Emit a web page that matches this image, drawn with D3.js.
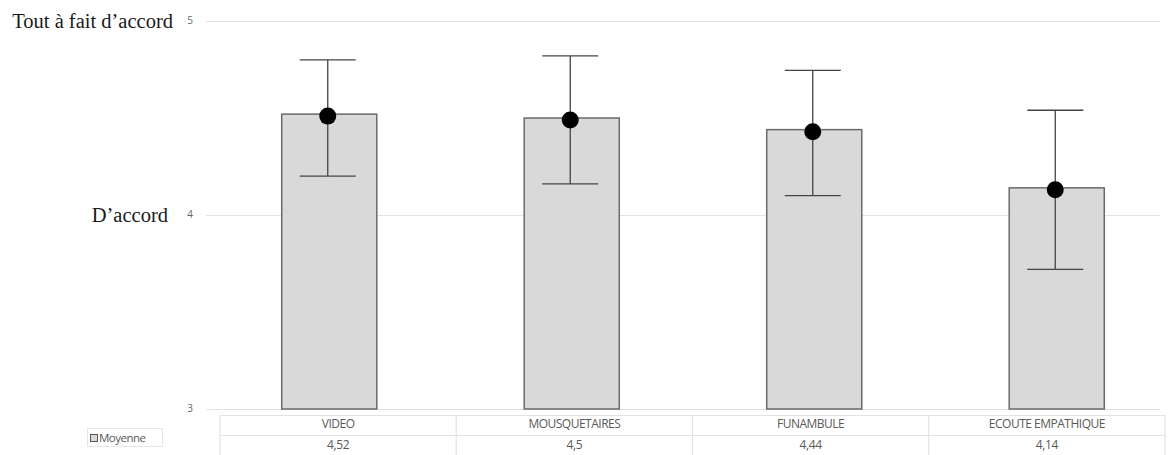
<!DOCTYPE html>
<html><head><meta charset="utf-8">
<script src="https://cdn.jsdelivr.net/npm/d3@7"></script>
<style>body{margin:0;background:#fff}svg{display:block}</style>
</head><body>
<script>
const categories = ["VIDEO", "MOUSQUETAIRES", "FUNAMBULE", "ECOUTE EMPATHIQUE"];
const means = [4.52, 4.5, 4.44, 4.14];
const meanLabels = ["4,52", "4,5", "4,44", "4,14"];
const errUpper = [4.80, 4.82, 4.745, 4.54];
const errLower = [4.20, 4.16, 4.10, 3.72];
const yTicks = [3, 4, 5];
const yLevelLabels = [{v: 5, t: "Tout à fait d\u2019accord"}, {v: 4, t: "D\u2019accord"}];
const seriesName = "Moyenne";

const W = 1170, H = 455;
const svg = d3.select("body").append("svg").attr("width", W).attr("height", H);

const y = d3.scaleLinear().domain([3, 5]).range([409, 21]);
const x = d3.scaleBand().domain(categories).range([208, 1178]).paddingInner(0.608).paddingOuter(0.304);
const xt = d3.scaleBand().domain(categories).range([220, 1165]);

// gridlines
svg.append("g").selectAll("line").data(yTicks).join("line")
  .attr("x1", 206).attr("x2", 1160)
  .attr("y1", d => Math.round(y(d)) + 0.5).attr("y2", d => Math.round(y(d)) + 0.5)
  .attr("stroke", "#e3e3e3").attr("stroke-width", 1.2);

// y axis tick labels
const yAxis = d3.axisLeft(y).tickValues(yTicks).tickSize(0).tickPadding(0).tickFormat(d3.format("d"));
const ga = svg.append("g").attr("transform", "translate(193,0)").call(yAxis);
ga.select(".domain").remove();
ga.selectAll(".tick text").attr("font-family", "Open Sans, Liberation Sans, sans-serif").attr("font-size", 10)
  .attr("fill", "#666").attr("dy", "0").attr("y", 2.5);

// level labels (serif)
svg.append("g").selectAll("text").data(yLevelLabels).join("text")
  .attr("x", (d, i) => i === 0 ? 173 : 168).attr("y", d => y(d.v) + 7)
  .attr("text-anchor", "end")
  .attr("font-family", "Liberation Serif, Times New Roman, serif").attr("font-size", 20.5).attr("fill", "#1a1a1a")
  .text(d => d.t);

// bars
svg.append("g").selectAll("rect").data(categories).join("rect")
  .attr("x", d => x(d)).attr("width", x.bandwidth())
  .attr("y", (d, i) => y(means[i])).attr("height", (d, i) => y(3) - y(means[i]))
  .attr("fill", "#d9d9d9").attr("stroke", "#6a6a6a").attr("stroke-width", 1.5);

// error bars
const eg = svg.append("g").attr("stroke", "#444").attr("stroke-width", 1.3);
categories.forEach((c, i) => {
  const cx = x(c) + x.bandwidth() / 2 - 1.5;
  eg.append("line").attr("x1", cx).attr("x2", cx).attr("y1", y(errUpper[i])).attr("y2", y(errLower[i]));
  eg.append("line").attr("x1", cx - 28).attr("x2", cx + 28).attr("y1", y(errUpper[i])).attr("y2", y(errUpper[i]));
  eg.append("line").attr("x1", cx - 28).attr("x2", cx + 28).attr("y1", y(errLower[i])).attr("y2", y(errLower[i]));
});

// dots
svg.append("g").selectAll("circle").data(categories).join("circle")
  .attr("cx", d => x(d) + x.bandwidth() / 2 - 1.5)
  .attr("cy", (d, i) => y(means[i]) + 2)
  .attr("r", 8.5).attr("fill", "#000");

// data table
const tg = svg.append("g").attr("stroke", "#e3e3e3").attr("stroke-width", 1.2);
tg.append("line").attr("x1", 220).attr("x2", 1165).attr("y1", 415.5).attr("y2", 415.5);
tg.append("line").attr("x1", 220).attr("x2", 1165).attr("y1", 435.5).attr("y2", 435.5);
tg.selectAll("line.v").data(categories.concat(["end"])).join("line").attr("class", "v")
  .attr("x1", (d, i) => i < 4 ? xt(d) : 1165).attr("x2", (d, i) => i < 4 ? xt(d) : 1165)
  .attr("y1", 415).attr("y2", 455);

const tf = "Open Sans, Liberation Sans, sans-serif";
svg.append("g").selectAll("text").data(categories).join("text")
  .attr("x", d => xt(d) + xt.bandwidth() / 2).attr("y", 428)
  .attr("text-anchor", "middle").attr("font-family", tf).attr("font-size", 12)
  .attr("letter-spacing", "-0.5").attr("fill", "#595959").text(d => d);
svg.append("g").selectAll("text").data(categories).join("text")
  .attr("x", d => xt(d) + xt.bandwidth() / 2).attr("y", 449)
  .attr("text-anchor", "middle").attr("font-family", tf).attr("font-size", 12)
  .attr("letter-spacing", "-0.3").attr("fill", "#595959").text((d, i) => meanLabels[i]);

// legend
const lg = svg.append("g");
lg.append("rect").attr("x", 87.5).attr("y", 428.5).attr("width", 75).attr("height", 18)
  .attr("fill", "#fff").attr("stroke", "#e6e6e6");
lg.append("rect").attr("x", 90.5).attr("y", 434.5).attr("width", 7).attr("height", 7)
  .attr("fill", "#d9d9d9").attr("stroke", "#555");
lg.append("text").attr("x", 99).attr("y", 442).attr("font-family", tf).attr("font-size", 11.5)
  .attr("letter-spacing", "-0.5").attr("fill", "#595959").text(seriesName);
</script>
</body></html>
